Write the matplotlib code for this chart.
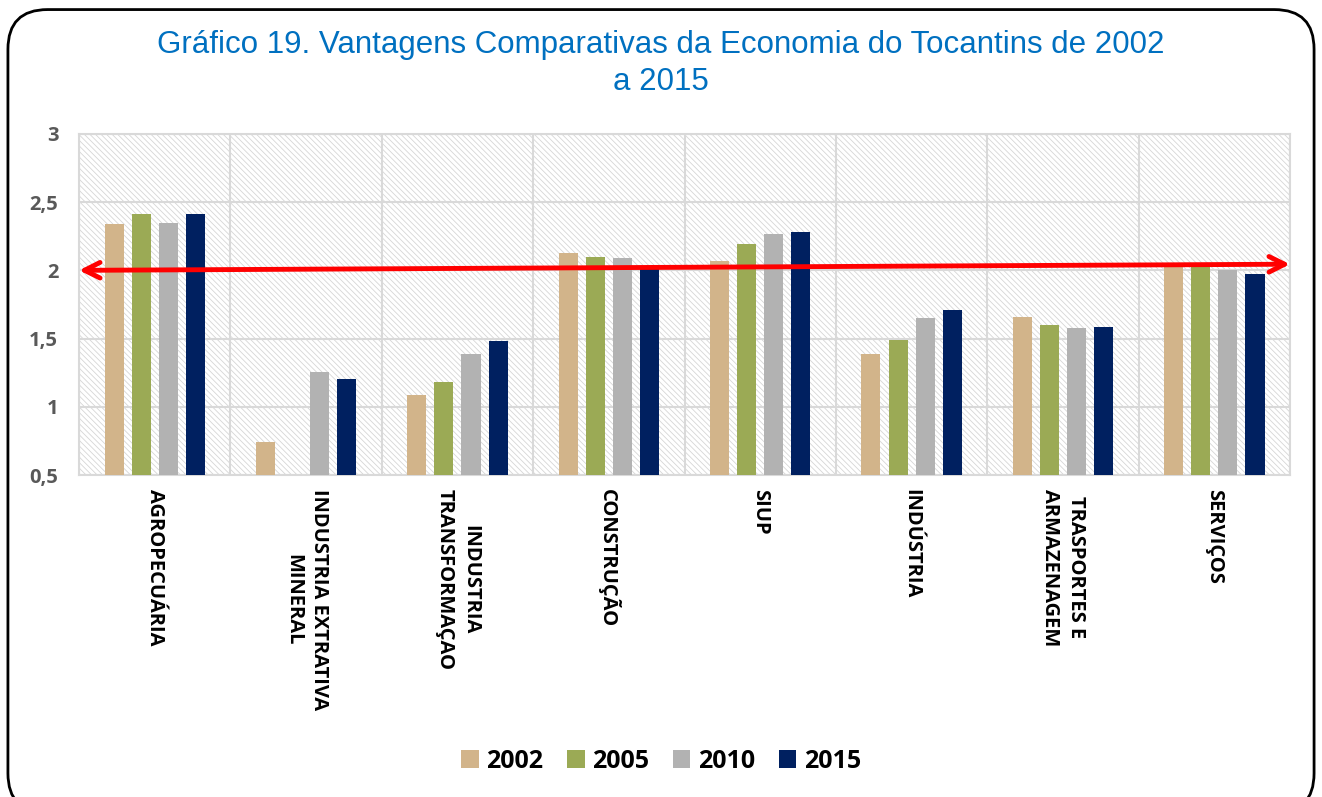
import matplotlib.pyplot as plt
import numpy as np
from matplotlib.patches import FancyBboxPatch

# Dados
setores = ["AGROPECUÁRIA", "INDUSTRIA EXTRATIVA\nMINERAL", "INDUSTRIA\nTRANSFORMAÇAO",
           "CONSTRUÇÃO", "SIUP", "INDÚSTRIA", "TRASPORTES E\nARMAZENAGEM", "SERVIÇOS"]
anos = ["2002", "2005", "2010", "2015"]
v2002 = [2.34, 0.74, 1.09, 2.125, 2.07, 1.385, 1.66, 2.05]
v2005 = [2.41, np.nan, 1.18, 2.10, 2.19, 1.49, 1.60, 2.05]
v2010 = [2.35, 1.255, 1.39, 2.09, 2.27, 1.65, 1.575, 2.00]
v2015 = [2.41, 1.20, 1.48, 2.02, 2.28, 1.71, 1.585, 1.97]
seta_ini = 2.0
seta_fim = 2.045

cores = ["#D2B48A", "#9BAA55", "#B2B2B2", "#002060"]
series = [v2002, v2005, v2010, v2015]

plt.rcParams['hatch.linewidth'] = 0.6
fig = plt.figure(figsize=(13.22, 7.97), dpi=100)
ax = fig.add_axes([0.0598, 0.404, 0.916, 0.428])

# fundo hachurado
ax.patch.set_facecolor("white")
ax.patch.set_edgecolor("#D6D6D6")
ax.patch.set_hatch("\\\\\\\\\\\\")
ax.patch.set_linewidth(0)

x = np.arange(len(setores))
largura = 0.126
passo = 0.179
for i, (vals, cor, ano) in enumerate(zip(series, cores, anos)):
    ax.bar(x + (i - 1.5) * passo, vals, largura, color=cor, label=ano, zorder=3)

ax.set_xlim(-0.5, len(setores) - 0.5)
ax.set_ylim(0.5, 3)
ax.set_yticks([0.5, 1, 1.5, 2, 2.5, 3])
ax.set_yticklabels(["0,5", "1", "1,5", "2", "2,5", "3"], fontsize=14.5,
                   fontweight="bold", color="#595959", family="Open Sans")
ax.set_xticks(x)
ax.set_xticklabels(setores, rotation=-90, fontsize=14.5, fontweight="bold",
                   family="Open Sans", va="top", ha="center", multialignment="center",
                   linespacing=1.4)
ax.tick_params(length=0)
ax.tick_params(axis="y", pad=15)
ax.tick_params(axis="x", pad=10)

# grade
ax.set_xticks(np.arange(-0.5, len(setores)), minor=True)
ax.grid(which="minor", axis="x", color="#D9D9D9", lw=1.5, zorder=1)
ax.grid(which="major", axis="y", color="#D9D9D9", lw=1.5, zorder=1)
ax.tick_params(which="minor", length=0)
for s in ax.spines.values():
    s.set_color("#D9D9D9")
    s.set_linewidth(1.5)

# seta vermelha
ax.annotate("", xy=(len(setores) - 0.5, seta_fim), xytext=(-0.5, seta_ini),
            arrowprops=dict(arrowstyle="<->", color="red", lw=3.5, mutation_scale=28,
                            shrinkA=0, shrinkB=0), zorder=5, annotation_clip=False)

fig.suptitle("Gráfico 19. Vantagens Comparativas da Economia do Tocantins de 2002\na 2015",
             x=0.5, y=0.962, fontsize=22.5, color="#0070C0", family="Liberation Sans",
             linespacing=1.3)

fig.legend(loc="center", bbox_to_anchor=(0.5, 0.045), ncol=4, frameon=False,
           prop={"family": "Open Sans", "weight": "bold", "size": 18},
           handlelength=0.7, handleheight=0.7, handletextpad=0.3, columnspacing=0.95)

borda = FancyBboxPatch((0.006, -0.02), 0.988, 1.008, boxstyle="round,pad=0,rounding_size=0.03",
                       transform=fig.transFigure, fill=False, edgecolor="black", lw=2,
                       mutation_aspect=1322 / 797)
fig.patches.append(borda)

fig.savefig("out.png", dpi=100)
